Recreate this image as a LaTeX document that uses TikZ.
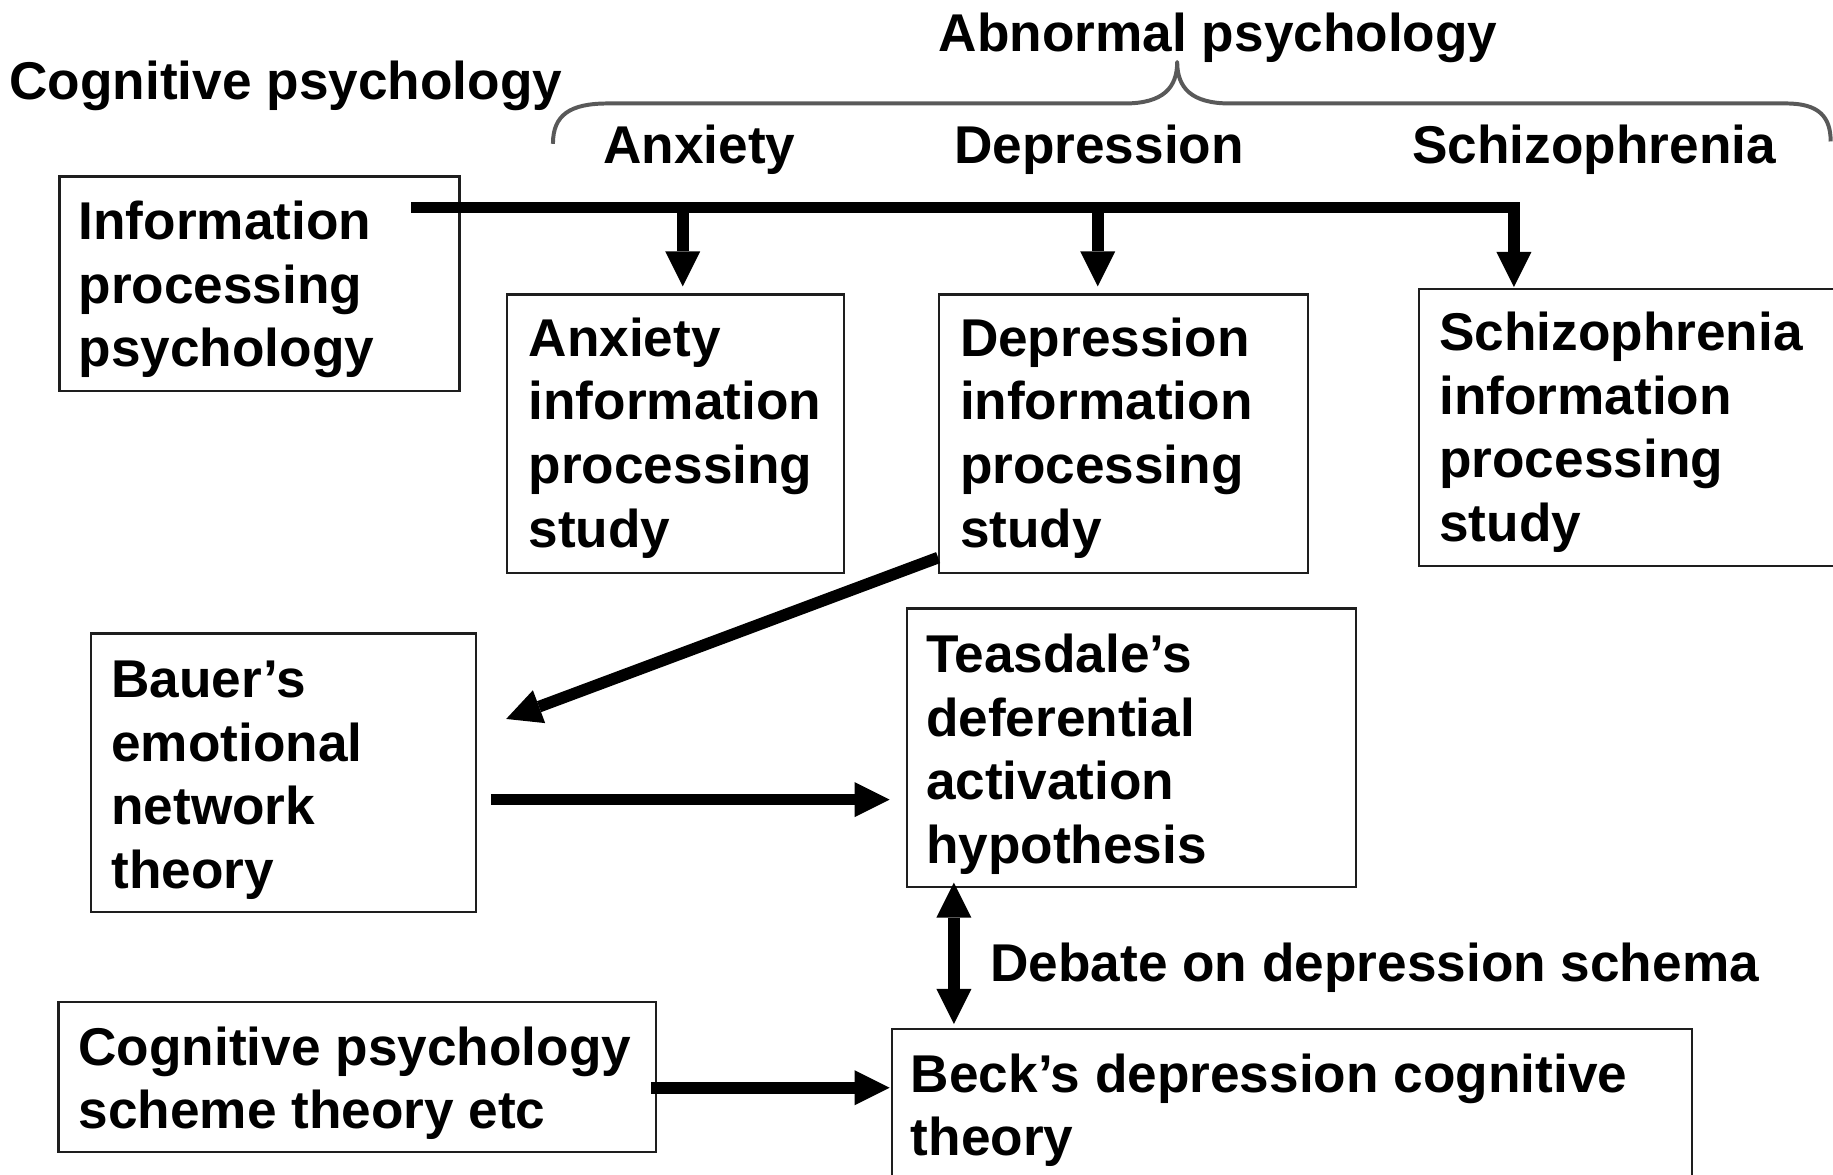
\documentclass[tikz,border=0pt]{standalone}
\usepackage{fontspec}
\setmainfont{Liberation Sans}
\usetikzlibrary{arrows.meta,calc}
\definecolor{bracegray}{RGB}{89,89,89}
\definecolor{boxline}{RGB}{30,30,30}
\newcommand\bigtext{\fontsize{45.5}{54.5}\selectfont\bfseries}
\begin{document}
\begin{tikzpicture}[x=1pt,y=-1pt,
  box/.style={draw=boxline,line width=2pt,rectangle,anchor=north west,inner sep=0pt},
  lbl/.style={anchor=north west,inner sep=0pt,align=left,font=\bigtext},
  hdr/.style={anchor=base west,inner sep=0pt,font=\bigtext},
  arr/.style={line width=10pt,-{Triangle[length=30pt,width=30pt,line width=0pt]}},
  darr/.style={line width=10pt,{Triangle[length=30pt,width=30pt,line width=0pt]}-{Triangle[length=30pt,width=30pt,line width=0pt]}},
  bracestyle/.style={draw=bracegray,line width=3.4pt,line join=round}
]
\useasboundingbox (0,0) rectangle (1568,1005);
\clip (0,0) rectangle (1568,1005);

% headers
\node[hdr] (cogh) at (8,85.5) {Cognitive psychology};
\node[hdr] (abnh) at (803,44) {Abnormal psychology};
\node[hdr] (anxh) at (516,139.5) {Anxiety};
\node[hdr] (deph) at (816,140) {Depression};
\node[hdr] (schh) at (1208,139.5) {Schizophrenia};

% brace
\draw[bracestyle] (473,123) .. controls (473,98) and (488,88.5) .. (520,88.5)
  -- (962,88.5) .. controls (995,88.5) and (1007,75) .. (1007,53)
  .. controls (1007,75) and (1019,88.5) .. (1052,88.5)
  -- (1528,88.5) .. controls (1556,88.5) and (1566,100) .. (1566,121);

% boxes
\node[box,minimum width=342pt,minimum height=183.5pt] (info) at (50,150) {};
\node[box,minimum width=288.4pt,minimum height=238.4pt] (anx) at (432.6,251) {};
\node[box,minimum width=315.2pt,minimum height=238.4pt] (dep) at (802.5,251) {};
\node[box,minimum width=400pt,minimum height=237.3pt] (sch) at (1213,246) {};
\node[box,minimum width=329pt,minimum height=238pt] (bauer) at (77,541) {};
\node[box,minimum width=384pt,minimum height=238pt] (teas) at (775,519.5) {};
\node[box,minimum width=511pt,minimum height=128.6pt] (cog) at (49,856) {};
\node[box,minimum width=684.5pt,minimum height=180pt] (beck) at (762,879) {};

% box texts
\node[lbl] (infot) at (67,171.6) {Information\\processing\\psychology};
\node[lbl] (anxt) at (452,271.5) {Anxiety\\information\\processing\\study};
\node[lbl] (dept) at (821,271.5) {Depression\\information\\processing\\study};
\node[lbl] (scht) at (1231,266.5) {Schizophrenia\\information\\processing\\study};
\node[lbl] (bauert) at (95,565) {Bauer’s\\emotional\\network\\theory};
\node[lbl] (teast) at (792,542) {Teasdale’s\\deferential\\activation\\hypothesis};
\node[lbl] (cogt) at (67,878) {Cognitive psychology\\scheme theory etc};
\node[lbl] (beckt) at (779,901) {Beck’s depression cognitive\\theory};
\node[hdr] (debate) at (847,840) {Debate on depression schema};

% connector ends
\coordinate (hs) at (352,177.5);
\coordinate (anxtop) at (584,177.5);
\coordinate (anxin) at (584,245);
\coordinate (deptop) at (939,177.5);
\coordinate (depin) at (939,245);
\coordinate (schin) at (1295,245.5);
\coordinate (diagS) at (802.5,477);
\coordinate (diagE) at (433,615);
\coordinate (bauerout) at (420,684);
\coordinate (teasin) at (761,684);
\coordinate (teasbot) at (816,755);
\coordinate (becktop) at (816,876);
\coordinate (cogout) at (557,930.5);
\coordinate (beckin) at (761,930.5);

% connectors
\draw[arr] (hs) -| (schin);
\draw[arr] (anxtop) -- (anxin);
\draw[arr] (deptop) -- (depin);
\draw[arr] (diagS) -- (diagE);
\draw[arr] (bauerout) -- (teasin);
\draw[darr] (teasbot) -- (becktop);
\draw[arr] (cogout) -- (beckin);
\end{tikzpicture}
\end{document}
